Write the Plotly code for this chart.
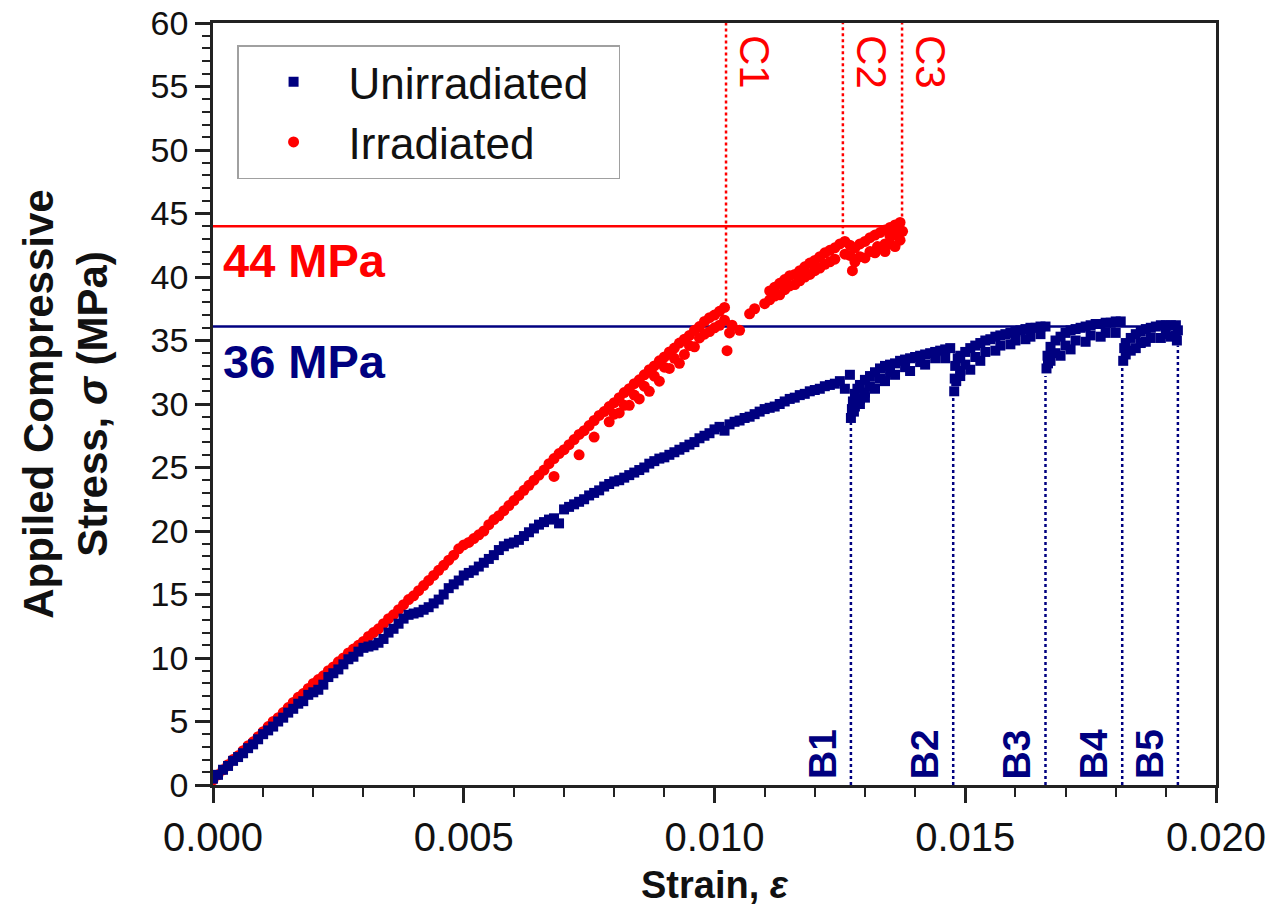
import plotly.graph_objects as go

# ---------------- data ----------------
unirr_strain = [
    0.0000, 0.0001, 0.0002, 0.0003, 0.0004, 0.0005, 0.0006, 0.0007, 0.0008, 0.0009,
    0.0010, 0.0011, 0.0012, 0.0013, 0.0014, 0.0015, 0.0016, 0.0017, 0.0018, 0.0019,
    0.0020, 0.0021, 0.0022, 0.0023, 0.0024, 0.0025, 0.0026, 0.0027, 0.0028, 0.0029,
    0.0030, 0.0031, 0.0032, 0.0033, 0.0034, 0.0035, 0.0036, 0.0037, 0.0038, 0.0039,
    0.0040, 0.0041, 0.0042, 0.0043, 0.0044, 0.0045, 0.0046, 0.0047, 0.0048, 0.0049,
    0.0050, 0.0051, 0.0052, 0.0053, 0.0054, 0.0055, 0.0056, 0.0057, 0.0058, 0.0059,
    0.0060, 0.0061, 0.0062, 0.0063, 0.0064, 0.0065, 0.0066, 0.0067, 0.0068, 0.0069,
    0.0070, 0.0071, 0.0072, 0.0073, 0.0074, 0.0075, 0.0076, 0.0077, 0.0078, 0.0079,
    0.0080, 0.0081, 0.0082, 0.0083, 0.0084, 0.0085, 0.0086, 0.0087, 0.0088, 0.0089,
    0.0090, 0.0091, 0.0092, 0.0093, 0.0094, 0.0095, 0.0096, 0.0097, 0.0098, 0.0099,
    0.0100, 0.0101, 0.0102, 0.0103, 0.0104, 0.0105, 0.0106, 0.0107, 0.0108, 0.0109,
    0.0110, 0.0111, 0.0112, 0.0113, 0.0114, 0.0115, 0.0116, 0.0117, 0.0118, 0.0119,
    0.0120, 0.0121, 0.0122, 0.0123, 0.0124, 0.0125, 0.0126, 0.0127,
    # after B1
    0.01272, 0.01274, 0.01276, 0.0128, 0.01285, 0.0129, 0.0130, 0.0131, 0.0132, 0.0133,
    0.0134, 0.0135, 0.0136, 0.0137, 0.0138, 0.0139, 0.0140, 0.0141, 0.0142, 0.0143,
    0.0144, 0.0145, 0.0146, 0.0147,
    0.0128, 0.0129, 0.0130, 0.0131, 0.0133, 0.0135, 0.0138, 0.0141, 0.0144,
    0.01278, 0.0129, 0.0130, 0.0132, 0.0134, 0.0136, 0.0139, 0.0142, 0.0146,
    # after B2
    0.01478, 0.01479, 0.0148, 0.01485, 0.0149, 0.0150, 0.0151, 0.0152, 0.0153, 0.0154,
    0.0155, 0.0156, 0.0157, 0.0158, 0.0159, 0.0160, 0.0161, 0.0162, 0.0163, 0.0164,
    0.0165, 0.0166,
    0.0149, 0.0150, 0.0152, 0.0154, 0.0157, 0.0160, 0.0163,
    0.01482, 0.0149, 0.0151, 0.0153, 0.0156, 0.0159, 0.0162, 0.0165,
    # after B3
    0.01662, 0.01664, 0.0167, 0.0168, 0.0169, 0.0170, 0.0171, 0.0172, 0.0173, 0.0174,
    0.0175, 0.0176, 0.0177, 0.0178, 0.0179, 0.0180, 0.0181,
    0.0167, 0.0168, 0.0170, 0.0172, 0.0175, 0.0178,
    0.01665, 0.0169, 0.0171, 0.0174, 0.0177, 0.0180,
    # after B4
    0.01815, 0.01817, 0.0182, 0.0183, 0.0184, 0.0185, 0.0186, 0.0187, 0.0188, 0.0189,
    0.0190, 0.0191, 0.0192, 0.01924,
    0.0183, 0.0185, 0.0187, 0.0190, 0.0192,
    0.0182, 0.0184, 0.0186, 0.0189, 0.0191, 0.01922,
]
unirr_stress = [
    0.5, 0.8, 1.2, 1.5, 1.9, 2.2, 2.5, 2.9, 3.2, 3.6,
    4.0, 4.3, 4.6, 5.0, 5.3, 5.7, 6.0, 6.4, 6.6, 7.1,
    7.3, 7.5, 7.9, 8.5, 8.8, 9.1, 9.5, 9.9, 10.1, 10.5,
    10.8, 10.9, 11.0, 11.2, 11.5, 12.0, 12.3, 12.7, 13.1, 13.4,
    13.5, 13.6, 13.8, 14.0, 14.3, 14.6, 15.0, 15.5, 15.8, 16.1,
    16.5, 16.7, 16.9, 17.2, 17.5, 17.8, 18.1, 18.5, 18.8, 19.0,
    19.1, 19.3, 19.6, 19.9, 20.2, 20.5, 20.7, 20.9, 21.0, 20.6,
    21.7, 21.9, 22.1, 22.3, 22.5, 22.8, 23.0, 23.2, 23.5, 23.7,
    23.9, 24.0, 24.2, 24.4, 24.6, 24.8, 25.0, 25.3, 25.5, 25.7,
    25.8, 26.0, 26.2, 26.4, 26.6, 26.8, 27.0, 27.3, 27.5, 27.7,
    28.0, 28.2, 27.9, 28.4, 28.6, 28.7, 28.9, 29.0, 29.2, 29.4,
    29.6, 29.7, 29.8, 30.0, 30.2, 30.4, 30.5, 30.7, 30.8, 31.0,
    31.1, 31.2, 31.4, 31.5, 31.6, 31.8, 31.2, 32.3,
    28.9, 29.6, 30.2, 30.8, 31.2, 31.5, 31.9, 32.2, 32.5, 32.8,
    33.0, 33.1, 33.2, 33.4, 33.5, 33.6, 33.7, 33.8, 33.9, 34.0,
    34.1, 34.2, 34.3, 34.4,
    29.8, 30.4, 30.9, 31.4, 32.0, 32.5, 32.9, 33.3, 33.6,
    29.4, 30.0, 30.5, 31.2, 31.8, 32.3, 32.6, 33.1, 33.6,
    31.0, 32.0, 33.0, 33.6, 33.8, 34.1, 34.4, 34.6, 34.8, 35.0,
    35.1, 35.3, 35.4, 35.5, 35.6, 35.7, 35.8, 35.9, 36.0, 36.0,
    36.1, 36.1,
    32.6, 33.1, 33.7, 34.1, 34.6, 35.0, 35.3,
    31.8, 32.2, 32.7, 33.4, 34.2, 34.7, 35.1, 35.5,
    32.8, 33.8, 34.5, 35.0, 35.3, 35.6, 35.8, 35.9, 36.0, 36.1,
    36.2, 36.3, 36.3, 36.4, 36.4, 36.5, 36.5,
    33.4, 34.0, 34.6, 35.0, 35.4, 35.6,
    33.2, 33.8, 34.3, 34.9, 35.3, 35.6,
    33.4, 34.4, 34.8, 35.2, 35.5, 35.7, 35.9, 36.0, 36.1, 36.2,
    36.2, 36.2, 36.2, 35.8,
    34.2, 34.8, 35.2, 35.5, 35.4,
    33.9, 34.4, 34.9, 35.2, 35.3, 35.0,
]

irr_strain = [
    0.0000, 0.0001, 0.0002, 0.0003, 0.0004, 0.0005, 0.0006, 0.0007, 0.0008, 0.0009,
    0.0010, 0.0011, 0.0012, 0.0013, 0.0014, 0.0015, 0.0016, 0.0017, 0.0018, 0.0019,
    0.0020, 0.0021, 0.0022, 0.0023, 0.0024, 0.0025, 0.0026, 0.0027, 0.0028, 0.0029,
    0.0030, 0.0031, 0.0032, 0.0033, 0.0034, 0.0035, 0.0036, 0.0037, 0.0038, 0.0039,
    0.0040, 0.0041, 0.0042, 0.0043, 0.0044, 0.0045, 0.0046, 0.0047, 0.0048, 0.0049,
    0.0050, 0.0051, 0.0052, 0.0053, 0.0054, 0.0055, 0.0056, 0.0057, 0.0058, 0.0059,
    0.0060, 0.0061, 0.0062, 0.0063, 0.0064, 0.0065, 0.0066, 0.0067, 0.0068, 0.0069,
    0.0070, 0.0071, 0.0072, 0.0073, 0.0074, 0.0075, 0.0076, 0.0077, 0.0078, 0.0079,
    0.0080, 0.0081, 0.0082, 0.0083, 0.0084, 0.0085, 0.0086, 0.0087, 0.0088, 0.0089,
    0.0090, 0.0091, 0.0092, 0.0093, 0.0094, 0.0095, 0.0096, 0.0097, 0.0098, 0.0099,
    0.0100, 0.0101, 0.0102,
    # scatter below main band
    0.0068, 0.0073, 0.0076, 0.0079, 0.0081, 0.0083, 0.0085, 0.0087, 0.0089, 0.0091,
    0.0094, 0.0096, 0.0099, 0.0101, 0.01025, 0.0103, 0.01035,
    0.0080, 0.0082, 0.0084, 0.0086, 0.0088, 0.0090, 0.0092, 0.0093, 0.0095, 0.0097,
    0.0098, 0.0100, 0.0102,
    # after C1
    0.0105, 0.0107, 0.0110, 0.0111, 0.0112, 0.0113, 0.0114, 0.0115, 0.0116, 0.0117,
    0.0118, 0.0119, 0.0120, 0.0121, 0.0122, 0.0123, 0.0124, 0.0125, 0.0126, 0.0127,
    0.0128, 0.0129, 0.0130, 0.0131, 0.0132, 0.0133, 0.0134, 0.0135, 0.0136, 0.0137,
    0.01375,
    0.0113, 0.0115, 0.0117, 0.0119, 0.0121, 0.0123, 0.0127, 0.01275, 0.0129, 0.0131,
    0.0133, 0.0134, 0.0135, 0.0136, 0.0137,
    0.0108, 0.0111, 0.0112, 0.0114, 0.0116, 0.0118, 0.0120, 0.0122, 0.0124, 0.0126,
    0.0128, 0.0130, 0.0132, 0.01325, 0.0134, 0.0135, 0.0136, 0.0137,
]
irr_stress = [
    0.4, 0.8, 1.2, 1.6, 2.0, 2.3, 2.7, 3.1, 3.4, 3.8,
    4.2, 4.6, 5.0, 5.3, 5.7, 6.1, 6.5, 6.9, 7.2, 7.6,
    8.0, 8.3, 8.6, 9.0, 9.3, 9.7, 10.0, 10.4, 10.7, 11.0,
    11.3, 11.7, 12.0, 12.3, 12.7, 13.1, 13.4, 13.8, 14.2, 14.6,
    14.9, 15.3, 15.7, 16.1, 16.5, 16.9, 17.3, 17.7, 18.1, 18.6,
    18.9, 19.1, 19.4, 19.7, 20.0, 20.5, 20.9, 21.2, 21.6, 22.0,
    22.4, 22.8, 23.2, 23.6, 24.0, 24.4, 24.8, 25.3, 25.7, 26.1,
    26.4, 26.8, 27.2, 27.6, 27.9, 28.3, 28.7, 29.1, 29.4, 29.8,
    30.1, 30.5, 30.9, 31.2, 31.6, 31.9, 32.3, 32.7, 33.0, 33.4,
    33.7, 34.1, 34.4, 34.8, 35.1, 35.4, 35.8, 36.1, 36.5, 36.8,
    37.0, 37.3, 37.6,
    24.3, 26.0, 27.4, 28.6, 29.3, 29.9, 30.4, 31.0, 31.8, 32.8,
    33.9, 34.5, 35.7, 36.2, 34.2, 35.6, 36.2,
    29.2, 29.9, 30.7, 31.4, 32.2, 32.9, 33.6, 33.2, 34.6, 35.2,
    35.5, 36.0, 36.6,
    35.8, 37.1, 37.9, 38.9, 39.2, 39.5, 39.8, 40.1, 40.2, 40.5,
    40.8, 41.1, 41.3, 41.6, 41.9, 42.1, 42.3, 42.6, 42.8, 42.5,
    42.3, 42.6, 42.8, 43.1, 43.3, 43.5, 43.7, 43.9, 44.1, 44.3,
    43.6,
    38.6, 39.3, 39.7, 40.2, 40.7, 41.2, 41.7, 40.5, 41.6, 42.0,
    42.3, 42.0, 42.6, 42.4, 42.9,
    37.5, 38.2, 38.5, 39.0, 39.4, 40.0, 40.5, 41.0, 41.4, 41.8,
    41.2, 41.5, 41.9, 42.4, 42.6, 43.2, 43.3, 43.6,
]

# reference levels and crack markers
irr_level = 44.0          # "44 MPa"
irr_level_end = 0.01374
unirr_level = 36.1        # "36 MPa"
unirr_level_end = 0.0192

c_labels = ["C1", "C2", "C3"]
c_strain = [0.01023, 0.01256, 0.01374]
c_stress = [37.6, 42.9, 44.3]

b_labels = ["B1", "B2", "B3", "B4", "B5"]
b_strain = [0.01272, 0.01476, 0.01660, 0.01813, 0.01924]
b_stress = [28.7, 30.9, 32.2, 33.0, 34.6]

x_ticks = [0.000, 0.005, 0.010, 0.015, 0.020]
y_ticks = list(range(0, 61, 5))

NAVY = "#000080"
RED = "#FF0000"
FONT = "Liberation Sans, Arial, sans-serif"
NBSP = "\u00a0"

fig = go.Figure()

# horizontal reference lines
fig.add_trace(go.Scatter(x=[0, irr_level_end], y=[irr_level, irr_level], mode="lines",
                         line=dict(color=RED, width=2.5), showlegend=False, hoverinfo="skip"))
fig.add_trace(go.Scatter(x=[0, unirr_level_end], y=[unirr_level, unirr_level], mode="lines",
                         line=dict(color=NAVY, width=2.5), showlegend=False, hoverinfo="skip"))

# vertical dotted lines
for xs, ys in zip(c_strain, c_stress):
    fig.add_trace(go.Scatter(x=[xs, xs], y=[ys, 60], mode="lines",
                             line=dict(color=RED, width=2.5, dash="dot"),
                             showlegend=False, hoverinfo="skip"))
for xs, ys in zip(b_strain, b_stress):
    fig.add_trace(go.Scatter(x=[xs, xs], y=[0, ys], mode="lines",
                             line=dict(color=NAVY, width=2.5, dash="dot"),
                             showlegend=False, hoverinfo="skip"))

fig.add_trace(go.Scatter(x=irr_strain, y=irr_stress, mode="markers",
                         name="Irradiated" + NBSP * 2,
                         marker=dict(symbol="circle", size=11, color=RED, line=dict(width=0)),
                         legendrank=2))
fig.add_trace(go.Scatter(x=unirr_strain, y=unirr_stress, mode="markers",
                         name="Unirradiated" + NBSP * 2,
                         marker=dict(symbol="square", size=10, color=NAVY, line=dict(width=0)),
                         legendrank=1))

annotations = [
    dict(x=0, y=irr_level, xref="x", yref="y", text="<b>44 MPa</b>", showarrow=False,
         xanchor="left", yanchor="top", xshift=8, yshift=-6,
         font=dict(family=FONT, size=47, color=RED)),
    dict(x=0, y=unirr_level, xref="x", yref="y", text="<b>36 MPa</b>", showarrow=False,
         xanchor="left", yanchor="top", xshift=8, yshift=-6,
         font=dict(family=FONT, size=47, color=NAVY)),
]
for lab, xs in zip(c_labels, c_strain):
    annotations.append(dict(x=xs, y=60, xref="x", yref="y", text=lab, showarrow=False,
                            textangle=90, xanchor="center", yanchor="top", xshift=29, yshift=-10,
                            font=dict(family=FONT, size=42, color=RED)))
for lab, xs in zip(b_labels, b_strain):
    annotations.append(dict(x=xs, y=0, xref="x", yref="y", text="<b>" + lab + "</b>",
                            showarrow=False, textangle=-90, xanchor="center", yanchor="bottom",
                            xshift=-29, yshift=4,
                            font=dict(family=FONT, size=39, color=NAVY)))

fig.update_layout(
    width=1272, height=912,
    margin=dict(l=213, r=56, t=23, b=127, autoexpand=False),
    paper_bgcolor="white", plot_bgcolor="white",
    font=dict(family=FONT, color="#111111"),
    showlegend=True,
    legend=dict(x=0.024, y=0.971, xanchor="left", yanchor="top",
                bgcolor="white", bordercolor="#a0a0a0", borderwidth=1.5,
                font=dict(family=FONT, size=44, color="#111111"),
                itemwidth=100, tracegroupgap=0),
    annotations=annotations,
)

fig.update_xaxes(
    range=[0, 0.020], tickvals=x_ticks, ticktext=[f"{v:.3f}" for v in x_ticks],
    showline=True, linecolor="#222222", linewidth=2.5, mirror=True,
    ticks="outside", ticklen=15, tickwidth=2.5, tickcolor="#222222",
    minor=dict(dtick=0.001, ticks="outside", ticklen=9, tickwidth=2, tickcolor="#222222"),
    showgrid=False, zeroline=False, automargin=False,
    tickfont=dict(family=FONT, size=40, color="#111111"),
    title=dict(text="<b>Strain, <i>ε</i></b>", font=dict(family=FONT, size=38, color="#111111"),
               standoff=14),
)
fig.update_yaxes(
    range=[0, 60], tickvals=y_ticks, ticktext=[str(v) for v in y_ticks],
    showline=True, linecolor="#222222", linewidth=2.5, mirror=True,
    ticks="outside", ticklen=15, tickwidth=2.5, tickcolor="#222222",
    minor=dict(dtick=1, ticks="outside", ticklen=8, tickwidth=2, tickcolor="#222222"),
    showgrid=False, zeroline=False, automargin=False,
    tickfont=dict(family=FONT, size=34, color="#111111"),
    title=dict(text="<b>Appiled Compressive<br>Stress, <i>σ</i> (MPa)</b>",
               font=dict(family=FONT, size=42, color="#111111"), standoff=30),
)

fig.write_html("out.html")
